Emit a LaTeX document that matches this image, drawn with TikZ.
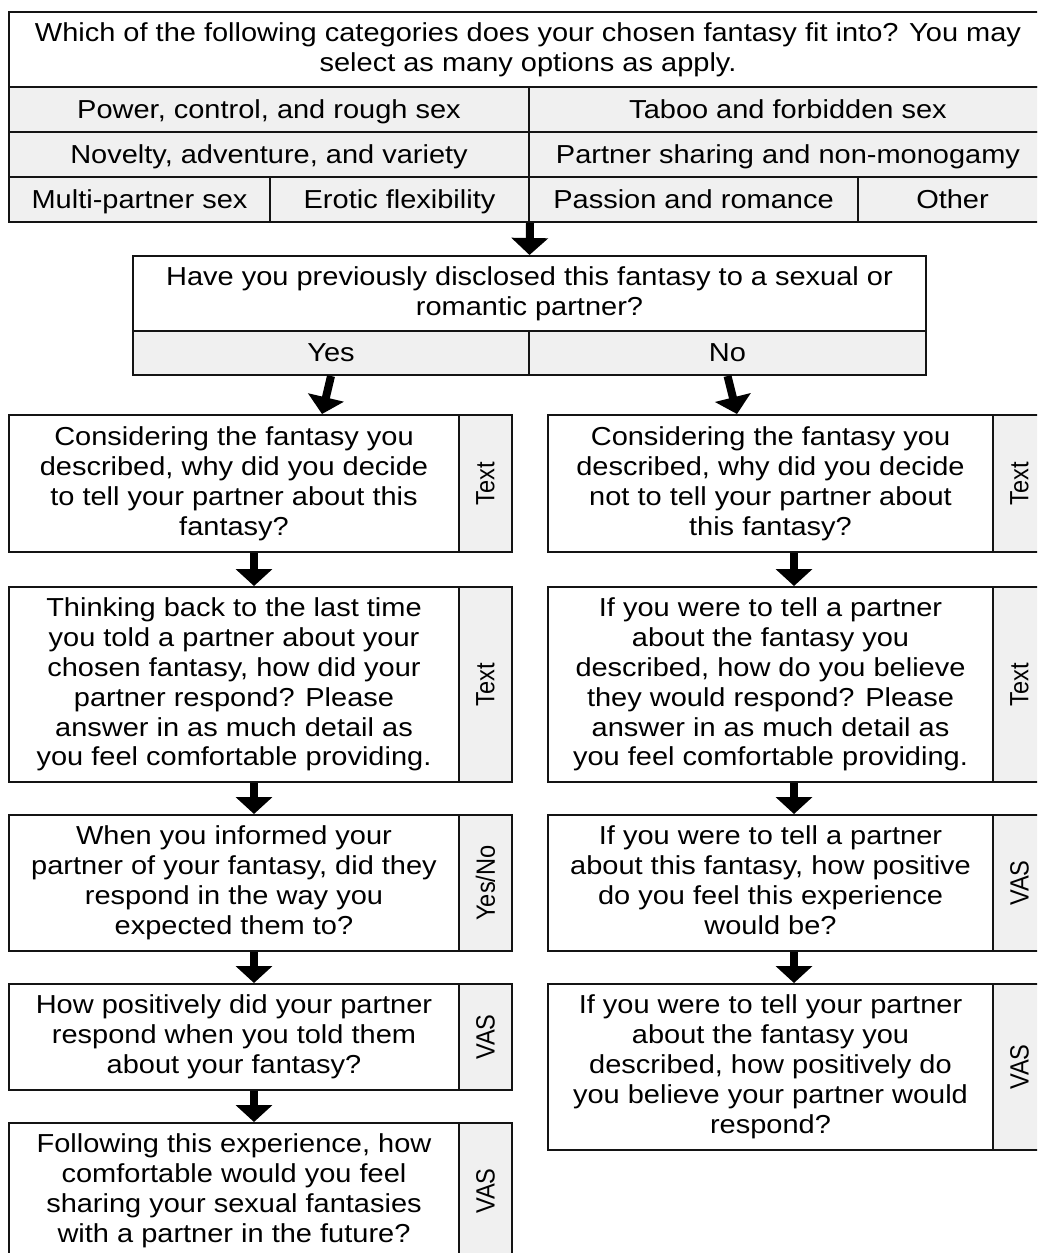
\documentclass[tikz,border=0pt]{standalone}
\usepackage{fontspec}
\setmainfont{Liberation Sans}[FakeStretch=1.115]
\newfontfamily\sidefont{Liberation Sans}[FakeStretch=0.894]
\usetikzlibrary{arrows.meta}
\definecolor{cellgray}{RGB}{240,240,240}
\definecolor{edge}{RGB}{20,20,20}
\newcommand{\mainsize}{\fontsize{26}{29.9}\selectfont}
\newcommand{\sidesize}{\sidefont\fontsize{26.4}{30}\selectfont}
\newcommand{\linestrut}{\rule[-5.5pt]{0pt}{28.5pt}}
\tikzset{
  box/.style={draw=edge, line width=2pt, fill=white, inner sep=0pt, align=center, font=\mainsize, text=black,
    execute at begin node={\linestrut}, execute at end node={\linestrut}},
  graycell/.style={box, fill=cellgray},
  sidecell/.style={draw=edge, line width=2pt, fill=cellgray, inner sep=0pt, rotate=90, font=\sidesize, text=black, minimum height=53pt},
  arr/.style={draw=black, line width=8pt, -{Triangle[length=17pt,width=36pt]}}
}
\begin{document}
\begin{tikzpicture}[x=1pt,y=-1pt]
\useasboundingbox (0,0) rectangle (1037,1253);
\clip (0,0) rectangle (1037,1253);

% top question box
\node[box, minimum width=1038pt, minimum height=75pt] (hdr) at (528,49.5)
  {Which of the following categories does your chosen fantasy fit into? You may\\select as many options as apply.};
\node[graycell, minimum width=520pt, minimum height=45pt] (r1a) at (269,109.5) {Power, control, and rough sex};
\node[graycell, minimum width=518pt, minimum height=45pt] (r1b) at (788,109.5) {Taboo and forbidden sex};
\node[graycell, minimum width=520pt, minimum height=45pt] (r2a) at (269,154.5) {Novelty, adventure, and variety};
\node[graycell, minimum width=518pt, minimum height=45pt] (r2b) at (788,154.5) {Partner sharing and non-monogamy};
\node[graycell, minimum width=261pt, minimum height=45pt] (r3a) at (139.5,199.5) {Multi-partner sex};
\node[graycell, minimum width=259pt, minimum height=45pt] (r3b) at (399.5,199.5) {Erotic flexibility};
\node[graycell, minimum width=329pt, minimum height=45pt] (r3c) at (693.5,199.5) {Passion and romance};
\node[graycell, minimum width=189pt, minimum height=45pt] (r3d) at (952.5,199.5) {Other};

% disclosure question
\node[box, minimum width=793pt, minimum height=75pt] (q2) at (529.5,293.5)
  {Have you previously disclosed this fantasy to a sexual or\\romantic partner?};
\node[graycell, minimum width=396pt, minimum height=44pt] (yes) at (331,353) {Yes};
\node[graycell, minimum width=397pt, minimum height=44pt] (no) at (727.5,353) {No};

% left column
\node[box, minimum width=450pt, minimum height=137pt] (L1) at (234,483.5)
  {Considering the fantasy you\\described, why did you decide\\to tell your partner about this\\fantasy?};
\node[sidecell, minimum width=137pt] (L1s) at (485.5,483.5) {Text};
\node[box, minimum width=450pt, minimum height=195pt] (L2) at (234,684.5)
  {Thinking back to the last time\\you told a partner about your\\chosen fantasy, how did your\\partner respond? Please\\answer in as much detail as\\you feel comfortable providing.};
\node[sidecell, minimum width=195pt] (L2s) at (485.5,684.5) {Text};
\node[box, minimum width=450pt, minimum height=136pt] (L3) at (234,883)
  {When you informed your\\partner of your fantasy, did they\\respond in the way you\\expected them to?};
\node[sidecell, minimum width=136pt] (L3s) at (485.5,883) {Yes/No};
\node[box, minimum width=450pt, minimum height=106pt] (L4) at (234,1037)
  {How positively did your partner\\respond when you told them\\about your fantasy?};
\node[sidecell, minimum width=106pt] (L4s) at (485.5,1037) {VAS};
\node[box, minimum width=450pt, minimum height=136pt] (L5) at (234,1191)
  {Following this experience, how\\comfortable would you feel\\sharing your sexual fantasies\\with a partner in the future?};
\node[sidecell, minimum width=136pt] (L5s) at (485.5,1191) {VAS};

% right column
\node[box, minimum width=445pt, minimum height=137pt] (R1) at (770.5,483.5)
  {Considering the fantasy you\\described, why did you decide\\not to tell your partner about\\this fantasy?};
\node[sidecell, minimum width=137pt] (R1s) at (1019.5,483.5) {Text};
\node[box, minimum width=445pt, minimum height=195pt] (R2) at (770.5,684.5)
  {If you were to tell a partner\\about the fantasy you\\described, how do you believe\\they would respond? Please\\answer in as much detail as\\you feel comfortable providing.};
\node[sidecell, minimum width=195pt] (R2s) at (1019.5,684.5) {Text};
\node[box, minimum width=445pt, minimum height=136pt] (R3) at (770.5,883)
  {If you were to tell a partner\\about this fantasy, how positive\\do you feel this experience\\would be?};
\node[sidecell, minimum width=136pt] (R3s) at (1019.5,883) {VAS};
\node[box, minimum width=445pt, minimum height=166pt] (R4) at (770.5,1067)
  {If you were to tell your partner\\about the fantasy you\\described, how positively do\\you believe your partner would\\respond?};
\node[sidecell, minimum width=166pt] (R4s) at (1019.5,1067) {VAS};

% arrow columns
\coordinate (colL) at (254,0);
\coordinate (colR) at (794,0);
\coordinate (yt) at (322,0);
\coordinate (nt) at (737,0);

% connectors
\draw[arr] (r3b.south east) -- (q2.north);
\draw[arr] (yes.south) -- (L1.north -| yt);
\draw[arr] (no.south) -- (R1.north -| nt);
\draw[arr] (L1.south -| colL) -- (L2.north -| colL);
\draw[arr] (L2.south -| colL) -- (L3.north -| colL);
\draw[arr] (L3.south -| colL) -- (L4.north -| colL);
\draw[arr] (L4.south -| colL) -- (L5.north -| colL);
\draw[arr] (R1.south -| colR) -- (R2.north -| colR);
\draw[arr] (R2.south -| colR) -- (R3.north -| colR);
\draw[arr] (R3.south -| colR) -- (R4.north -| colR);
\end{tikzpicture}
\end{document}
